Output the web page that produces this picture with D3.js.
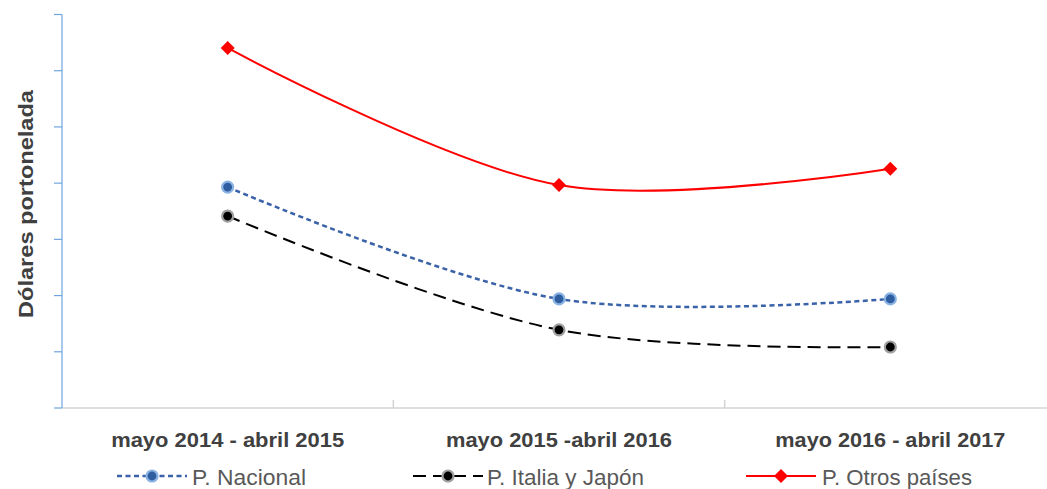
<!DOCTYPE html>
<html><head><meta charset="utf-8">
<script src="https://cdn.jsdelivr.net/npm/d3@7"></script>
<style>body{margin:0;background:#fff;}svg{display:block;}</style>
</head><body>
<script>
const categories = ["mayo 2014 - abril 2015", "mayo 2015 -abril 2016", "mayo 2016 - abril 2017"];
const nacional = [786, 388, 388];
const italiaJapon = [683, 278, 217];
const otros = [1281, 793, 851];
const yTicks = [0, 200, 400, 600, 800, 1000, 1200, 1400];
const seriesNames = ["P. Nacional", "P. Italia y Japón", "P. Otros países"];

const W = 1047, H = 489;
const FONT = "Liberation Sans, Arial, sans-serif";
const svg = d3.select("body").append("svg").attr("width", W).attr("height", H);
const x = d3.scaleBand().domain(categories).range([62, 1056]);
const y = d3.scaleLinear().domain([0, 1400]).range([408, 14.5]);

// x axis line
svg.append("line").attr("x1", 62).attr("x2", W).attr("y1", y(0)).attr("y2", y(0))
  .attr("stroke", "#d4d4d4").attr("stroke-width", 1.5);
categories.slice(1).forEach(c => {
  svg.append("line").attr("x1", x(c)).attr("x2", x(c)).attr("y1", y(0) - 8).attr("y2", y(0))
    .attr("stroke", "#d4d4d4").attr("stroke-width", 1.5);
});
// y axis
svg.append("line").attr("x1", 62).attr("x2", 62).attr("y1", y(1400)).attr("y2", y(0))
  .attr("stroke", "#6fa6e0").attr("stroke-width", 1.2);
yTicks.forEach(t => {
  svg.append("line").attr("x1", 54).attr("x2", 62).attr("y1", y(t)).attr("y2", y(t))
    .attr("stroke", "#6fa6e0").attr("stroke-width", 1.2);
});
// y title
svg.append("text").attr("transform", "translate(33,204) rotate(-90)")
  .attr("text-anchor", "middle").attr("font-family", FONT)
  .attr("font-weight", "bold").attr("font-size", 21).attr("fill", "#404040")
  .attr("textLength", 228).attr("lengthAdjust", "spacingAndGlyphs")
  .text("Dólares portonelada");
// category labels
const catWidths = [233, 226, 230];
categories.forEach((c, i) => {
  svg.append("text").attr("x", x(c) + x.bandwidth() / 2).attr("y", 447)
    .attr("text-anchor", "middle").attr("font-family", FONT)
    .attr("font-weight", "bold").attr("font-size", 21).attr("fill", "#404040")
    .attr("textLength", catWidths[i]).attr("lengthAdjust", "spacingAndGlyphs").text(c);
});

const cx = c => x(c) + x.bandwidth() / 2;
const line = d3.line().x((d, i) => cx(categories[i])).y(d => y(d)).curve(d3.curveCatmullRom.alpha(0.5));

const styles = [
  {data: nacional, color: "#3a62a8", width: 2.5, dash: "5,3.5", marker: "circleBlue"},
  {data: italiaJapon, color: "#000", width: 2, dash: "13,7", marker: "circleBlack"},
  {data: otros, color: "#ff0000", width: 2, dash: null, marker: "diamond"}
];

function drawMarker(g, type, px, py) {
  if (type === "circleBlue") {
    g.append("circle").attr("cx", px).attr("cy", py).attr("r", 5.5)
      .attr("fill", "#2e5da0").attr("stroke", "#8ab3e3").attr("stroke-width", 2.2);
  } else if (type === "circleBlack") {
    g.append("circle").attr("cx", px).attr("cy", py).attr("r", 5.5)
      .attr("fill", "#000").attr("stroke", "#a0a0a0").attr("stroke-width", 2.2);
  } else {
    g.append("path").attr("d", `M${px},${py-7}L${px+7},${py}L${px},${py+7}L${px-7},${py}Z`)
      .attr("fill", "#ff0000");
  }
}

styles.forEach(s => {
  svg.append("path").attr("d", line(s.data)).attr("fill", "none")
    .attr("stroke", s.color).attr("stroke-width", s.width)
    .attr("stroke-dasharray", s.dash);
});
styles.forEach(s => {
  const g = svg.append("g");
  s.data.forEach((v, i) => drawMarker(g, s.marker, cx(categories[i]), y(v)));
});

// legend
const legendX = [117, 413, 746];
const legendTextX = [192, 487, 822];
const legendWidths = [114, 157, 150];
styles.forEach((s, i) => {
  const lx = legendX[i], ly = 476;
  svg.append("line").attr("x1", lx).attr("x2", lx + 70).attr("y1", ly).attr("y2", ly)
    .attr("stroke", s.color).attr("stroke-width", s.width).attr("stroke-dasharray", s.dash);
  drawMarker(svg, s.marker, lx + 35, ly);
  svg.append("text").attr("x", legendTextX[i]).attr("y", 485)
    .attr("font-family", FONT).attr("font-size", 22)
    .attr("fill", "#595959").attr("textLength", legendWidths[i])
    .attr("lengthAdjust", "spacingAndGlyphs").text(seriesNames[i]);
});
</script>
</body></html>
